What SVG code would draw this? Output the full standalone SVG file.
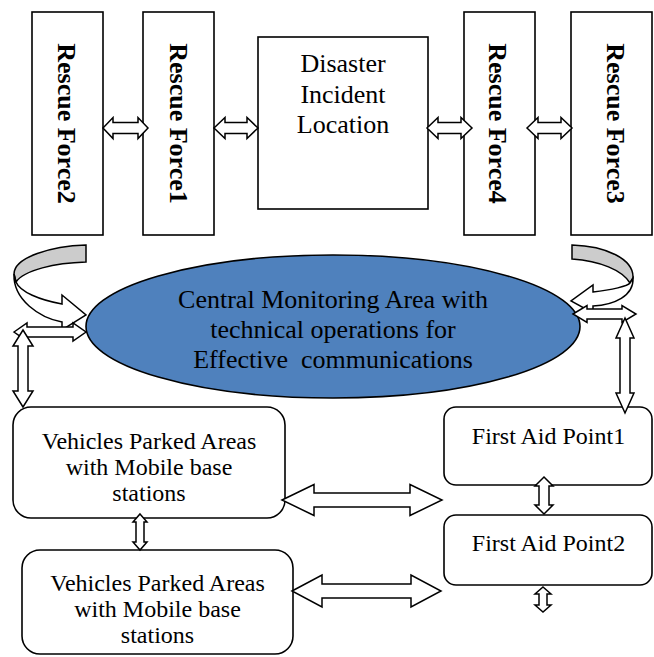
<svg xmlns="http://www.w3.org/2000/svg" width="654" height="657" viewBox="0 0 654 657">
<style>
.box{fill:#fff;stroke:#000;stroke-width:1.6}
.t{font-family:"Liberation Serif","Times New Roman",serif;font-size:26px;fill:#000;text-anchor:middle}
.tb{font-family:"Liberation Serif","Times New Roman",serif;font-size:26px;font-weight:bold;fill:#000;text-anchor:middle}
.ts{font-family:"Liberation Serif","Times New Roman",serif;font-size:24px;fill:#000;text-anchor:middle}
.ar{fill:#fff;stroke:#000;stroke-width:1.5;stroke-linejoin:miter}
.back{fill:#cccccc;stroke:#000;stroke-width:1.5}
</style>
<rect width="654" height="657" fill="#fff"/>
<g id="rescue2"><rect class="box" x="32" y="12" width="71" height="223"/><text class="tb" transform="translate(67,123.5) rotate(90)" y="9">Rescue Force2</text></g>
<g id="rescue1"><rect class="box" x="143" y="12" width="71" height="223"/><text class="tb" transform="translate(178.5,123.5) rotate(90)" y="9">Rescue Force1</text></g>
<g id="disaster"><rect class="box" x="258" y="37" width="170" height="172"/><text class="t" x="343" y="72">Disaster</text><text class="t" x="343" y="103">Incident</text><text class="t" x="343" y="133">Location</text></g>
<g id="rescue4"><rect class="box" x="464" y="12" width="71" height="223"/><text class="tb" transform="translate(498,123.5) rotate(90)" y="9">Rescue Force4</text></g>
<g id="rescue3"><rect class="box" x="571" y="12" width="81" height="223"/><text class="tb" transform="translate(616,123.5) rotate(90)" y="9">Rescue Force3</text></g>
<g id="central"><ellipse cx="333" cy="326.5" rx="247" ry="71.5" fill="#4f81bd" stroke="#000" stroke-width="1.6"/><text class="t" x="333" y="308">Central Monitoring Area with</text><text class="t" x="333" y="338">technical operations for</text><text class="t" x="333" y="368" xml:space="preserve">Effective  communications</text></g>
<g id="vehicles1"><rect class="box" x="13" y="407" width="272" height="111" rx="18"/><text class="ts" x="149" y="449">Vehicles Parked Areas</text><text class="ts" x="149" y="475">with Mobile base</text><text class="ts" x="149" y="501">stations</text></g>
<g id="vehicles2"><rect class="box" x="22" y="550" width="271" height="104" rx="18"/><text class="ts" x="157.5" y="591">Vehicles Parked Areas</text><text class="ts" x="157.5" y="617">with Mobile base</text><text class="ts" x="157.5" y="643">stations</text></g>
<g id="firstaid1"><rect class="box" x="444" y="407" width="208" height="78" rx="12"/><text class="ts" x="548.5" y="444">First Aid Point1</text></g>
<g id="firstaid2"><rect class="box" x="444" y="515" width="208" height="70" rx="12"/><text class="ts" x="548.5" y="551">First Aid Point2</text></g>
<g id="connectors">
<path class="ar" d="M103,128 L113,117.5 L113,122.5 L138,122.5 L138,117.5 L148,128 L138,138.5 L138,133.5 L113,133.5 L113,138.5 Z"/>
<path class="ar" d="M214,128 L225,117.5 L225,122.5 L247,122.5 L247,117.5 L258,128 L247,138.5 L247,133.5 L225,133.5 L225,138.5 Z"/>
<path class="ar" d="M427,128 L438,117.5 L438,122.5 L461,122.5 L461,117.5 L472,128 L461,138.5 L461,133.5 L438,133.5 L438,138.5 Z"/>
<path class="ar" d="M527,128 L538,117.5 L538,122.5 L561,122.5 L561,117.5 L572,128 L561,138.5 L561,133.5 L538,133.5 L538,138.5 Z"/>
<path class="back" d="M86,245 C52,246 14,257 14,274 L16,282 C24,270 55,263 86,262 Z"/>
<path class="ar" d="M14,274 C13,300 40,318 62,322 L62,330 L86,315 L62,295 L62,304 C40,300 20,292 16,282 Z"/>
<path class="back" d="M572,245 C606,246 634,259 633,278 L630,283 C622,270 600,261 572,259 Z"/>
<path class="ar" d="M633,278 C634,296 614,305 593,306 L593,313 L571,301 L593,285 L593,292 C612,290 628,286 630,283 Z"/>
<path class="ar" d="M14,332 L27,323 L27,327 L73,327 L73,323 L86,332 L73,341 L73,337 L27,337 L27,341 Z"/>
<path class="ar" d="M573,314 L587,305.5 L587,309 L622,309 L622,305.5 L636,314 L622,322.5 L622,319 L587,319 L587,322.5 Z"/>
<path class="ar" d="M23,330 L33,346 L28,346 L28,391 L33,391 L23,407 L13,391 L18,391 L18,346 L13,346 Z"/>
<path class="ar" d="M625,318 L634,338 L630,338 L630,393 L634,393 L625,413 L616,393 L620,393 L620,338 L616,338 Z"/>
<path class="ar" d="M140,514 L147,522 L144,522 L144,542 L147,542 L140,550 L133,542 L136,542 L136,522 L133,522 Z"/>
<path class="ar" d="M544,477 L553,486 L549,486 L549,505 L553,505 L544,514 L535,505 L539,505 L539,486 L535,486 Z"/>
<path class="ar" d="M543,587 L551,594 L547,594 L547,605 L551,605 L543,612 L535,605 L539,605 L539,594 L535,594 Z"/>
<path class="ar" d="M282,500 L314,484.5 L314,493 L410,493 L410,484.5 L442,500 L410,515.5 L410,507 L314,507 L314,515.5 Z"/>
<path class="ar" d="M292,591 L322,575 L322,584 L411,584 L411,575 L441,591 L411,607 L411,598 L322,598 L322,607 Z"/>
</g>
</svg>
